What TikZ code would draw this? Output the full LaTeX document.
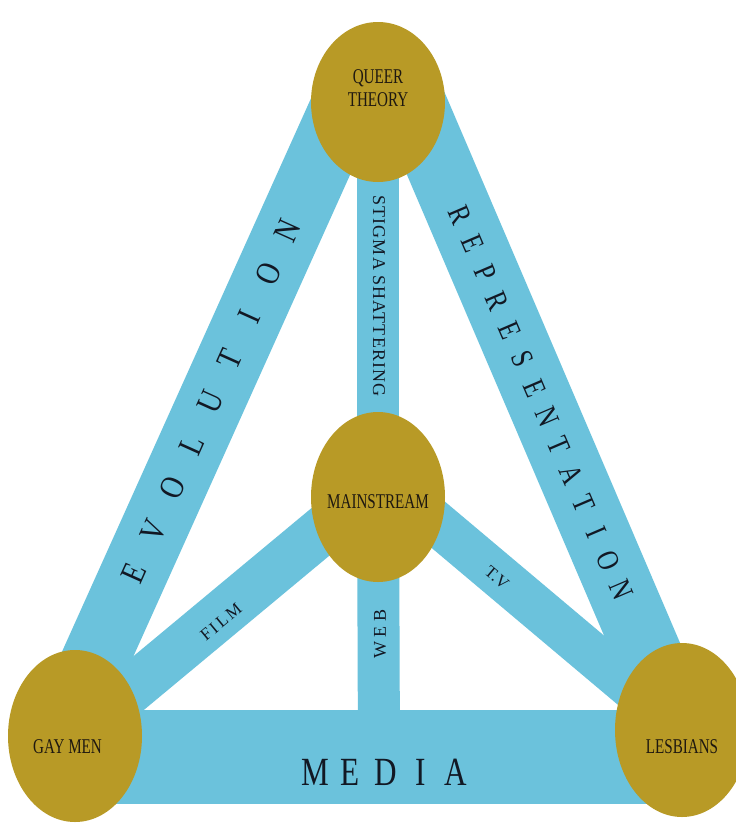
\documentclass[tikz,border=0pt]{standalone}
\usepackage{fontspec}
\setmainfont{Liberation Serif}
\usepackage{graphicx}
\definecolor{barblue}{RGB}{107,194,220}
\definecolor{gold}{RGB}{184,154,38}
\definecolor{ink}{RGB}{30,24,16}
\definecolor{labelink}{RGB}{18,24,36}
% ellipse text: x shift (doubled), baseline offset, content
\newcommand\etext[3]{\makebox[0pt]{\hspace*{#1}\raisebox{#2}[0pt][0pt]{\scalebox{0.72}[1]{#3}}}}
% letters on a fixed pitch
\newcommand\spread[3]{\def\mypitch{#1}\def\mysx{#2}\spreadaux#3\relax}
\def\spreadaux#1{\ifx#1\relax\else\makebox[\mypitch][c]{\scalebox{\mysx}[1]{#1}}\expandafter\spreadaux\fi}
\pgfdeclarelayer{bars}
\pgfsetlayers{bars,main}
\tikzset{
  bubble/.style={ellipse, fill=gold, inner sep=0pt, outer sep=0pt, minimum width=134pt,
    text=ink, font=\fontsize{21}{23}\selectfont},
  bar/.style={draw=barblue, line cap=butt},
  lab/.style={text=labelink, inner sep=0pt, outer sep=0pt},
}
\usetikzlibrary{shapes.geometric}
\begin{document}
\begin{tikzpicture}[x=1pt,y=-1pt]
\useasboundingbox (0,0) rectangle (736,823);

% nodes
\node[bubble, minimum height=160pt] (qt) at (378,102)
  {\etext{0pt}{-4pt}{\begin{tabular}[b]{@{}c@{}}QUEER\\THEORY\end{tabular}}};
\node[bubble, minimum height=170pt] (ms) at (378,497) {\etext{0pt}{-11pt}{MAINSTREAM}};
\node[bubble, minimum height=172pt] (gm) at (75,736) {\etext{-15pt}{-17pt}{GAY MEN}};
\node[bubble, minimum height=174pt] (lb) at (682,730) {\etext{0pt}{-23pt}{LESBIANS}};

% bar end points
\coordinate (evoT) at (347,100);
\coordinate (evoB) at (59,740);
\coordinate (repT) at (411.4,100);
\coordinate (repB) at (683,735);
\coordinate (mdL) at (75,757);
\coordinate (mdR) at (682,757);
\coordinate (mdW) at (379,757);
\coordinate (filmT) at (378,484);
\coordinate (tvT) at (378,474);

\begin{pgfonlayer}{bars}
\fill[white] (0,0) rectangle (736,823);
\draw[bar, line width=67pt] (evoT) -- (evoB);
\draw[bar, line width=67pt] (repT) -- (repB);
\draw[bar, line width=94pt] (mdL) -- (mdR);
\draw[bar, line width=42pt] (qt.center) -- (ms.center);
\draw[bar, line width=42pt] (ms.center) -- (mdW);
\draw[bar, line width=48pt] (gm.center) -- (filmT);
\draw[bar, line width=44pt] (lb.center) -- (tvT);
\end{pgfonlayer}

% labels
\node[lab, rotate=65.8, font=\fontsize{34}{34}\selectfont] (evolab) at (211,402)
  {\spread{47pt}{0.82}{EVOLUTION}};
\node[lab, rotate=-66.8, font=\fontsize{31}{31}\selectfont] (replab) at (540.7,402.5)
  {\spread{31.4pt}{0.8}{REPRESENTATION}};
\node[lab, font=\fontsize{40}{40}\selectfont] (medlab) at (385.5,772)
  {\spread{35pt}{0.78}{MEDIA}};
\node[lab, rotate=-90, font=\fontsize{18}{18}\selectfont\addfontfeatures{LetterSpace=6}] (stlab) at (379,296)
  {STIGMA SHATTERING};
\node[lab, rotate=90, font=\fontsize{18}{18}\selectfont\addfontfeatures{LetterSpace=25}] (weblab) at (380,634)
  {WEB};
\node[lab, rotate=39.8, font=\fontsize{17}{17}\selectfont\addfontfeatures{LetterSpace=15}] (filmlab) at (221,622)
  {FILM};
\node[lab, rotate=-40, font=\fontsize{17}{17}\selectfont] (tvlab) at (497,578)
  {T.V};
\end{tikzpicture}
\end{document}
